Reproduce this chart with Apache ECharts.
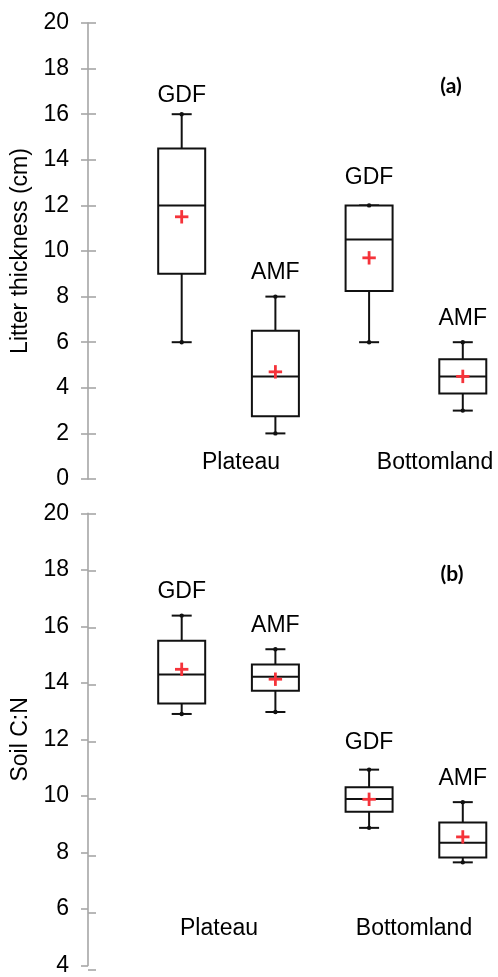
<!DOCTYPE html>
<html>
<head>
<meta charset="utf-8">
<script src="https://cdn.jsdelivr.net/npm/echarts@6/dist/echarts.min.js"></script>
<style>
html,body{margin:0;padding:0;background:#fff;}
#chart{width:498px;height:977px;}
</style>
</head>
<body>
<div id="chart"></div>
<script>
// ---- data ----
const groups = ['GDF', 'AMF', 'GDF', 'AMF'];
const sites = ['Plateau', 'Bottomland'];

const litterMin    = [6, 2, 6, 3];
const litterQ1     = [9, 2.75, 8.25, 3.75];
const litterMedian = [12, 4.5, 10.5, 4.5];
const litterQ3     = [14.5, 6.5, 12, 5.25];
const litterMax    = [16, 8, 12, 6];
const litterMean   = [11.5, 4.7, 9.7, 4.5];

const cnMin    = [12.9, 12.97, 8.87, 7.65];
const cnQ1     = [13.27, 13.72, 9.44, 7.82];
const cnMedian = [14.3, 14.22, 9.89, 8.34];
const cnQ3     = [15.49, 14.65, 10.31, 9.06];
const cnMax    = [16.38, 15.19, 10.93, 9.78];
const cnMean   = [14.48, 14.13, 9.88, 8.55];

const litterTicks = [0, 2, 4, 6, 8, 10, 12, 14, 16, 18, 20];
const cnTicks = [4, 6, 8, 10, 12, 14, 16, 18, 20];

// ---- styles ----
const FONT = 'Liberation Sans';
const AXIS_GRAY = '#a6a6a6';
const INK = '#000000';
const LINE_INK = '#111111';
const BOX_W = 47, CAP_W = 20;
const litterLabelDist = [7, 12, 16, 12];
const cnLabelDist = [12, 12, 15, 11.5];

function rows(mn, q1, md, q3, mx, mean) {
  return mn.map((v, i) => [i + 1, v, q1[i], md[i], q3[i], mx[i], mean[i]]);
}

function renderBox(params, api) {
  const x = api.value(0);
  const lo = api.coord([x, api.value(1)]);
  const q1 = api.coord([x, api.value(2)]);
  const md = api.coord([x, api.value(3)]);
  const q3 = api.coord([x, api.value(4)]);
  const hi = api.coord([x, api.value(5)]);
  const mn = api.coord([x, api.value(6)]);
  const cx = lo[0], hw = BOX_W / 2, cw = CAP_W / 2;
  const ls = {stroke: LINE_INK, lineWidth: 2, fill: null};
  const line = (x1, y1, x2, y2, style) => ({type: 'line', shape: {x1, y1, x2, y2}, style: style || ls});
  const children = [
    line(cx, hi[1], cx, q3[1]),
    line(cx, q1[1], cx, lo[1]),
    line(cx - cw, hi[1], cx + cw, hi[1]),
    line(cx - cw, lo[1], cx + cw, lo[1]),
    {type: 'rect', shape: {x: cx - hw, y: q3[1], width: BOX_W, height: q1[1] - q3[1]}, style: {stroke: LINE_INK, lineWidth: 2, fill: '#fff'}},
    line(cx - hw, md[1], cx + hw, md[1]),
    {type: 'circle', shape: {cx: cx, cy: hi[1], r: 2.2}, style: {fill: LINE_INK}},
    {type: 'circle', shape: {cx: cx, cy: lo[1], r: 2.2}, style: {fill: LINE_INK}},
    line(cx - 6.7, mn[1], cx + 6.7, mn[1], {stroke: '#f5333a', lineWidth: 2.8}),
    line(cx, mn[1] - 6.7, cx, mn[1] + 6.7, {stroke: '#f5333a', lineWidth: 2.8})
  ];
  return {type: 'group', children};
}

function yAxisMain(gridIndex, ticks, name, nameGap) {
  return {
    type: 'value', gridIndex, min: ticks[0], max: ticks[ticks.length - 1], interval: ticks[1] - ticks[0],
    name, nameLocation: 'middle', nameGap, nameRotate: 90,
    nameTextStyle: {fontFamily: FONT, fontSize: 23, color: INK},
    axisLine: {show: true, lineStyle: {color: AXIS_GRAY, width: 1.6}},
    axisTick: {show: true, inside: false, length: 7, lineStyle: {color: AXIS_GRAY, width: 1.6}},
    axisLabel: {fontFamily: FONT, fontSize: 23, color: INK, margin: 19},
    splitLine: {show: false}
  };
}
function yAxisInner(gridIndex, ticks) {
  return {
    type: 'value', gridIndex, min: ticks[0], max: ticks[ticks.length - 1], interval: ticks[1] - ticks[0],
    axisLine: {show: false},
    axisTick: {show: true, inside: true, length: 8, lineStyle: {color: AXIS_GRAY, width: 1.6}},
    axisLabel: {show: false},
    splitLine: {show: false}
  };
}
function xAxisHidden(gridIndex) {
  return {type: 'value', gridIndex, min: 0, max: 4.3, show: false, splitLine: {show: false}};
}
function labelSeries(xi, yi, maxs, dists) {
  return {
    type: 'scatter', xAxisIndex: xi, yAxisIndex: yi, symbolSize: 0, silent: true,
    data: maxs.map((v, i) => ({
      value: [i + 1, v],
      label: {show: true, position: 'top', distance: dists[i], formatter: groups[i],
              fontFamily: FONT, fontSize: 23, color: INK, opacity: 1}
    }))
  };
}

const topGrid = {left: 88, right: 7.1, top: 23, height: 456};
const botGrid = {left: 88, right: 7.1, top: 513.3, height: 456.7};

const siteText = (text, x, y) => ({type: 'text', x, y, style: {text, fontFamily: FONT, fontSize: 23, fill: INK, align: 'center', verticalAlign: 'middle'}});
const tagText = (text, x, y) => ({type: 'text', x, y, style: {text, fontFamily: 'Lato', fontSize: 21, fontWeight: 'bold', fill: INK, align: 'center', verticalAlign: 'middle'}});

const chart = echarts.init(document.getElementById('chart'), null, {renderer: 'canvas'});
chart.setOption({
  animation: false,
  backgroundColor: '#fff',
  textStyle: {fontFamily: FONT},
  grid: [topGrid, Object.assign({}, topGrid), botGrid, Object.assign({}, botGrid)],
  xAxis: [xAxisHidden(0), xAxisHidden(1), xAxisHidden(2), xAxisHidden(3)],
  yAxis: [
    yAxisMain(0, litterTicks, 'Litter thickness (cm)', 53),
    yAxisInner(1, litterTicks),
    yAxisMain(2, cnTicks, 'Soil C:N', 53),
    yAxisInner(3, cnTicks)
  ],
  series: [
    {type: 'custom', xAxisIndex: 0, yAxisIndex: 0, renderItem: renderBox,
     data: rows(litterMin, litterQ1, litterMedian, litterQ3, litterMax, litterMean)},
    labelSeries(0, 0, litterMax, litterLabelDist),
    {type: 'custom', xAxisIndex: 2, yAxisIndex: 2, renderItem: renderBox,
     data: rows(cnMin, cnQ1, cnMedian, cnQ3, cnMax, cnMean)},
    labelSeries(2, 2, cnMax, cnLabelDist)
  ],
  graphic: [
    siteText(sites[0], 241, 463),
    siteText(sites[1], 435, 463),
    siteText(sites[0], 219, 929),
    siteText(sites[1], 414, 929),
    tagText('(a)', 451, 86),
    tagText('(b)', 452, 574)
  ]
});
</script>
</body>
</html>
